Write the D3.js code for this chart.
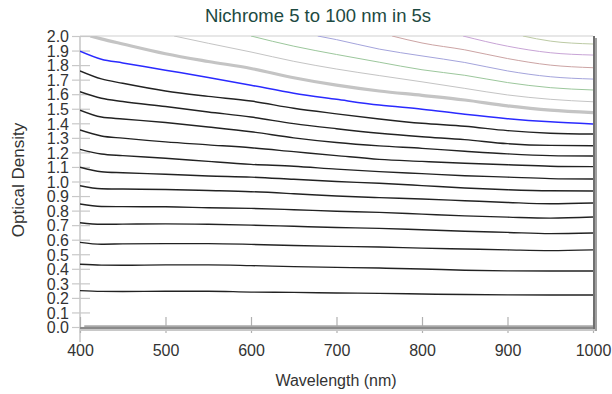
<!DOCTYPE html>
<html>
<head>
<meta charset="utf-8">
<script src="https://cdn.jsdelivr.net/npm/d3@7"></script>
<style>
  body { margin: 0; background: #fff; }
  text { font-family: "Liberation Sans", Arial, sans-serif; }
</style>
</head>
<body>
<svg width="612" height="394"></svg>
<script>
// wavelengths for the black curves (nm)
var waves = [400, 425, 450, 500, 550, 600, 650, 700, 750, 800, 850, 900, 950, 1000]

// twelve black curves, top to bottom (optical density)
var black1  = [1.76, 1.705, 1.675, 1.622, 1.585, 1.553, 1.503, 1.465, 1.43, 1.40, 1.38, 1.35, 1.332, 1.326]
var black2  = [1.617, 1.572, 1.55, 1.515, 1.478, 1.443, 1.398, 1.363, 1.332, 1.308, 1.288, 1.26, 1.248, 1.246]
var black3  = [1.49, 1.443, 1.43, 1.405, 1.375, 1.342, 1.30, 1.268, 1.245, 1.228, 1.208, 1.19, 1.178, 1.175]
var black4  = [1.354, 1.313, 1.298, 1.272, 1.252, 1.232, 1.205, 1.178, 1.152, 1.138, 1.125, 1.115, 1.105, 1.102]
var black5  = [1.221, 1.189, 1.178, 1.16, 1.138, 1.118, 1.105, 1.085, 1.068, 1.054, 1.04, 1.03, 1.02, 1.017]
var black6  = [1.098, 1.067, 1.06, 1.05, 1.038, 1.03, 1.015, 1.0, 0.988, 0.972, 0.955, 0.943, 0.936, 0.935]
var black7  = [0.971, 0.95, 0.948, 0.945, 0.938, 0.93, 0.916, 0.9, 0.889, 0.88, 0.868, 0.856, 0.847, 0.852]
var black8  = [0.845, 0.828, 0.827, 0.826, 0.82, 0.815, 0.806, 0.796, 0.788, 0.776, 0.764, 0.755, 0.748, 0.756]
var black9  = [0.717, 0.706, 0.707, 0.709, 0.706, 0.70, 0.692, 0.684, 0.678, 0.668, 0.658, 0.65, 0.642, 0.646]
var black10 = [0.582, 0.569, 0.571, 0.573, 0.573, 0.568, 0.56, 0.554, 0.55, 0.542, 0.536, 0.53, 0.525, 0.53]
var black11 = [0.431, 0.425, 0.424, 0.427, 0.427, 0.422, 0.415, 0.41, 0.405, 0.399, 0.39, 0.386, 0.385, 0.385]
var black12 = [0.25, 0.245, 0.244, 0.246, 0.246, 0.24, 0.238, 0.234, 0.231, 0.227, 0.223, 0.221, 0.22, 0.22]

var blueVals = [1.895, 1.84, 1.815, 1.765, 1.715, 1.662, 1.607, 1.565, 1.525, 1.497, 1.462, 1.432, 1.41, 1.395]

// upper curves enter the plot at the 2.0 border
var grayWaves   = [412, 425, 450, 500, 550, 600, 650, 700, 750, 800, 850, 900, 950, 1000]
var grayVals    = [2.0, 1.98, 1.945, 1.878, 1.825, 1.777, 1.713, 1.662, 1.622, 1.592, 1.56, 1.52, 1.49, 1.473]
var lgrayWaves  = [510, 550, 600, 650, 700, 750, 800, 850, 900, 950, 1000]
var lgrayVals   = [2.0, 1.95, 1.89, 1.826, 1.773, 1.728, 1.685, 1.64, 1.595, 1.565, 1.548]
var greenWaves  = [600, 650, 700, 750, 800, 850, 900, 950, 1000]
var greenVals   = [2.0, 1.93, 1.873, 1.82, 1.768, 1.73, 1.68, 1.645, 1.629]
var bpWaves     = [678, 700, 750, 800, 850, 900, 950, 1000]
var bpVals      = [2.0, 1.975, 1.91, 1.863, 1.818, 1.76, 1.72, 1.704]
var redWaves    = [765, 800, 850, 900, 950, 1000]
var redVals     = [2.0, 1.952, 1.905, 1.845, 1.80, 1.782]
var purpleWaves = [848, 900, 950, 1000]
var purpleVals  = [2.0, 1.93, 1.885, 1.869]
var oliveWaves  = [918, 950, 1000]
var oliveVals   = [2.0, 1.965, 1.945]
var zeroWaves   = [405, 1000]
var zeroVals    = [0, 0]

var xTicks = [400, 500, 600, 700, 800, 900, 1000]
var yTicks = d3.range(0, 21).map(function (i) { return i / 10 })

var svg = d3.select("svg")

var x = d3.scaleLinear().domain([400, 1000]).range([80, 593])
var y = d3.scaleLinear().domain([0, 2]).range([327, 36])

function pts(ws, vs) {
    return ws.map(function (w, i) { return [w, vs[i]] })
}

var series = [
    {p: pts(zeroWaves, zeroVals), c: "#a8a8a8", w: 3.5},
    {p: pts(waves, black12), c: "#222", w: 1.4},
    {p: pts(waves, black11), c: "#222", w: 1.4},
    {p: pts(waves, black10), c: "#222", w: 1.4},
    {p: pts(waves, black9), c: "#222", w: 1.4},
    {p: pts(waves, black8), c: "#222", w: 1.4},
    {p: pts(waves, black7), c: "#222", w: 1.4},
    {p: pts(waves, black6), c: "#222", w: 1.4},
    {p: pts(waves, black5), c: "#222", w: 1.4},
    {p: pts(waves, black4), c: "#222", w: 1.4},
    {p: pts(waves, black3), c: "#222", w: 1.4},
    {p: pts(waves, black2), c: "#222", w: 1.4},
    {p: pts(waves, black1), c: "#222", w: 1.4},
    {p: pts(waves, blueVals), c: "#2a2aff", w: 1.5},
    {p: pts(grayWaves, grayVals), c: "#c4c4c4", w: 3.2},
    {p: pts(lgrayWaves, lgrayVals), c: "#c4c4c4", w: 1},
    {p: pts(greenWaves, greenVals), c: "#9cc79c", w: 1},
    {p: pts(bpWaves, bpVals), c: "#a4a4dc", w: 1},
    {p: pts(redWaves, redVals), c: "#cca4a4", w: 1},
    {p: pts(purpleWaves, purpleVals), c: "#c8a4d6", w: 1},
    {p: pts(oliveWaves, oliveVals), c: "#bccaa4", w: 1}
]

// title
svg.append("text")
    .attr("x", 318).attr("y", 22)
    .attr("text-anchor", "middle")
    .style("font-size", "18.5px")
    .style("fill", "#1d4a42")
    .text("Nichrome 5 to 100 nm in 5s")

// frame: light top, gray left axis
svg.append("line").attr("x1", 80).attr("x2", 593).attr("y1", 36).attr("y2", 36)
    .style("stroke", "#d0d0d0").style("stroke-width", 1.2)
svg.append("line").attr("x1", 80).attr("x2", 80).attr("y1", 36).attr("y2", 342)
    .style("stroke", "#b8b8b8").style("stroke-width", 1.2)

// y ticks through the left axis
var yAxis = d3.axisLeft(y).tickValues(yTicks).tickSize(8).tickFormat(d3.format(".1f"))
var gy = svg.append("g").attr("transform", "translate(80,0)").call(yAxis)
gy.select(".domain").remove()
gy.selectAll(".tick line").attr("x1", -8).attr("x2", 10).style("stroke", "#c8c8c8").style("stroke-width", 1.2)
gy.selectAll(".tick text").attr("x", -11).attr("dy", "0.36em")
    .style("font-size", "16px").style("fill", "#333").style("font-family", "Liberation Sans, Arial, sans-serif")

// x ticks
var xAxis = d3.axisBottom(x).tickValues(xTicks).tickSize(0).tickFormat(d3.format("d"))
var gx = svg.append("g").attr("transform", "translate(0,328)").call(xAxis)
gx.select(".domain").remove()
gx.selectAll(".tick line").attr("y1", -11).attr("y2", 5).style("stroke", "#b0b0b0").style("stroke-width", 1.2)
gx.selectAll(".tick text").attr("y", 17).attr("dy", "0.71em")
    .style("font-size", "16px").style("fill", "#333").style("font-family", "Liberation Sans, Arial, sans-serif")

// curves, clipped to the plot
svg.append("clipPath").attr("id", "plotclip")
    .append("rect").attr("x", 80).attr("y", 36).attr("width", 513).attr("height", 294)

var line = d3.line()
    .x(function (d) { return x(d[0]) })
    .y(function (d) { return y(d[1]) })
    .curve(d3.curveMonotoneX)

svg.append("g").attr("clip-path", "url(#plotclip)")
    .selectAll("path")
    .data(series)
    .enter().append("path")
    .attr("d", function (d) { return line(d.p) })
    .style("fill", "none")
    .style("stroke", function (d) { return d.c })
    .style("stroke-width", function (d) { return d.w })

// bottom and right frame with a little shadow
svg.append("line").attr("x1", 80).attr("x2", 596).attr("y1", 330).attr("y2", 330)
    .style("stroke", "#c8c8c8").style("stroke-width", 2)
svg.append("line").attr("x1", 80).attr("x2", 595).attr("y1", 328).attr("y2", 328)
    .style("stroke", "#8a8a8a").style("stroke-width", 2)
svg.append("line").attr("x1", 596).attr("x2", 596).attr("y1", 38).attr("y2", 331)
    .style("stroke", "#a0a0a0").style("stroke-width", 2)
svg.append("line").attr("x1", 594).attr("x2", 594).attr("y1", 36).attr("y2", 329)
    .style("stroke", "#707070").style("stroke-width", 2)

// axis titles
svg.append("text")
    .attr("x", 336).attr("y", 386)
    .attr("text-anchor", "middle")
    .style("font-size", "16px").style("fill", "#333")
    .text("Wavelength (nm)")

svg.append("text")
    .attr("transform", "translate(24,180) rotate(-90)")
    .attr("text-anchor", "middle")
    .style("font-size", "17px").style("fill", "#333")
    .text("Optical Density")
</script>
</body>
</html>
